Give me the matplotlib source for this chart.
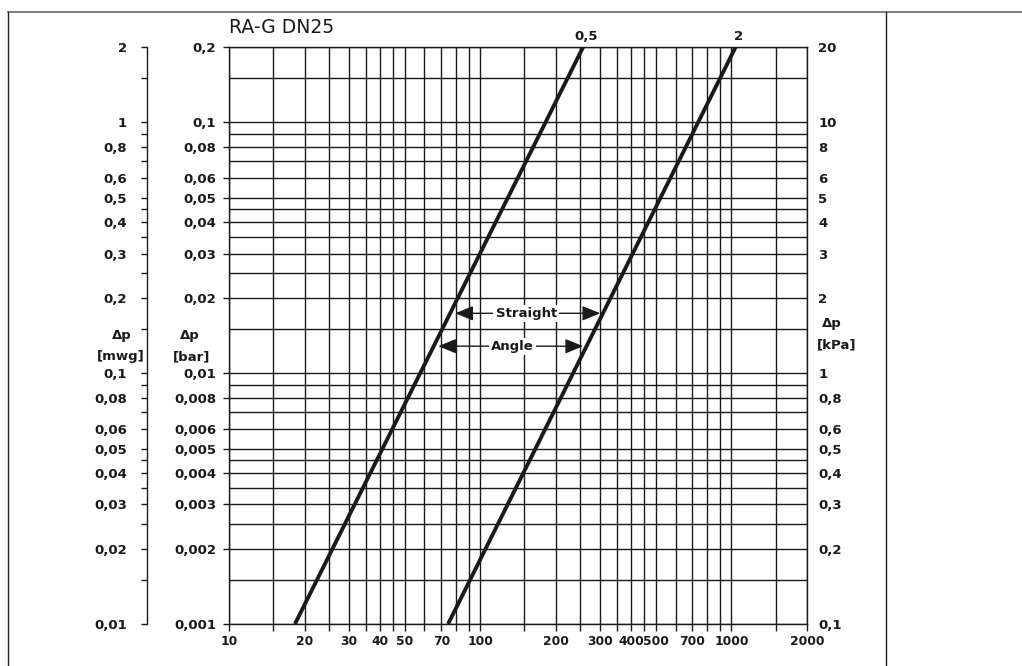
import matplotlib
matplotlib.use('Agg')
import matplotlib.pyplot as plt
from matplotlib.lines import Line2D
from matplotlib.ticker import NullFormatter

W, H = 1022, 666
plt.rcParams['font.family'] = ['DejaVu Sans']

# flow [l/h]
x_ticks = [10, 20, 30, 40, 50, 70, 100, 200, 300, 400, 500, 700, 1000, 2000]
x_grid = [15, 25, 35, 45, 60, 80, 90, 150, 250, 350, 450, 600, 800, 900, 1500]

# pressure drop [bar]; mwg = bar*10, kPa = bar*100
bar_ticks = [0.001, 0.002, 0.003, 0.004, 0.005, 0.006, 0.008,
             0.01, 0.02, 0.03, 0.04, 0.05, 0.06, 0.08, 0.1, 0.2]
bar_grid = [0.0015, 0.0025, 0.0035, 0.0045, 0.007, 0.009,
            0.015, 0.025, 0.035, 0.045, 0.07, 0.09, 0.15]

kv_names = ['0,5', '2']
kv_flow = [[18.3, 257], [74.5, 1040]]
kv_dp = [0.001, 0.2]

# arrows between the lines
arrow_names = ['Straight', 'Angle']
arrow_dp = [0.01734, 0.01282]
arrow_from = [79.5, 68.1]
arrow_to = [300.7, 257]
arrow_text_x = [152.5, 134]


def fmt(v):
    return f"{v:g}".replace('.', ',')


ink = '#1a1a1a'
tick_font = dict(fontsize=9.5, fontweight='bold', color=ink)
x_font = dict(fontsize=8.8, fontweight='bold', color=ink)

fig = plt.figure(figsize=(W / 100, H / 100), dpi=100)
ax = fig.add_axes([229 / W, 1 - 624 / H, 578 / W, 577 / H])
ax.set_xscale('log')
ax.set_yscale('log')
ax.set_xlim(10, 2000)
ax.set_ylim(0.001, 0.2)
ax.set_axisbelow(True)

ax.set_xticks(x_ticks, [fmt(v) for v in x_ticks], **x_font)
ax.set_xticks(x_grid, minor=True)
ax.set_yticks(bar_ticks, [fmt(v) for v in bar_ticks], **tick_font)
ax.set_yticks(bar_grid, minor=True)
ax.xaxis.set_minor_formatter(NullFormatter())
ax.yaxis.set_minor_formatter(NullFormatter())
ax.grid(True, which='both', color=ink, lw=1.0)
ax.tick_params(axis='x', which='both', direction='out', length=5, width=1.0,
               color=ink, pad=3, top=False)
ax.tick_params(axis='y', which='major', direction='out', length=4.3, width=1.0,
               color=ink, pad=5, right=False)
ax.tick_params(axis='y', which='minor', length=0)
for s in ax.spines.values():
    s.set_color(ink)
    s.set_linewidth(1.0)

for q, name in zip(kv_flow, kv_names):
    ax.plot(q, kv_dp, color=ink, lw=2.8, solid_capstyle='butt')
    ax.annotate(name, xy=(q[1], kv_dp[1]), xytext=(1.8, 5),
                textcoords='offset points', ha='center', va='baseline',
                annotation_clip=False, **tick_font)

for name, y, x0, x1, xt in zip(arrow_names, arrow_dp, arrow_from, arrow_to, arrow_text_x):
    for xe in (x0, x1):
        ax.annotate('', xy=(xe, y), xytext=(xt, y),
                    arrowprops=dict(arrowstyle='-|>,head_length=1.1,head_width=0.45',
                                    color=ink, lw=1.0, shrinkA=0, shrinkB=0,
                                    mutation_scale=10))
    ax.text(xt, y, name, ha='center', va='center', zorder=5, fontsize=9.5,
            fontweight='bold', color=ink,
            bbox=dict(fc='white', ec='none', pad=1.5))

# mwg axis on the far left
ax_m = ax.twinx()
ax_m.set_yscale('log')
ax_m.set_ylim(0.01, 2)
ax_m.yaxis.set_ticks_position('left')
ax_m.yaxis.set_label_position('left')
for k in ('top', 'right', 'bottom'):
    ax_m.spines[k].set_visible(False)
ax_m.spines['left'].set_position(('axes', -82 / 578))
ax_m.spines['left'].set_color(ink)
ax_m.spines['left'].set_linewidth(1.0)
mwg_ticks = [v * 10 for v in bar_ticks]
ax_m.set_yticks(mwg_ticks, [fmt(round(v, 4)) for v in mwg_ticks], **tick_font)
ax_m.set_yticks([v * 10 for v in bar_grid], minor=True)
ax_m.yaxis.set_minor_formatter(NullFormatter())
ax_m.tick_params(axis='y', which='both', direction='out', length=4.3, width=1.0,
                 color=ink, pad=10)

# kPa axis on the right
ax_k = ax.twinx()
ax_k.set_yscale('log')
ax_k.set_ylim(0.1, 20)
for s in ax_k.spines.values():
    s.set_visible(False)
kpa_ticks = [v * 100 for v in bar_ticks]
ax_k.set_yticks(kpa_ticks, [fmt(round(v, 4)) for v in kpa_ticks], **tick_font)
ax_k.set_yticks([], minor=True)
ax_k.tick_params(axis='y', which='both', length=0, pad=8)

# axis captions
fig.text(122 / W, 1 - 339 / H, 'Δp', ha='center', va='baseline', **tick_font)
fig.text(121 / W, 1 - 360 / H, '[mwg]', ha='center', va='baseline', **tick_font)
fig.text(190 / W, 1 - 339 / H, 'Δp', ha='center', va='baseline', **tick_font)
fig.text(192 / W, 1 - 360 / H, '[bar]', ha='center', va='baseline', **tick_font)
fig.text(822 / W, 1 - 327 / H, 'Δp', ha='left', va='baseline', **tick_font)
fig.text(817 / W, 1 - 348 / H, '[kPa]', ha='left', va='baseline', **tick_font)

fig.text(229 / W, 1 - 33 / H, 'RA-G DN25', ha='left', va='baseline',
         fontsize=13.5, color=ink)

# frame of the data sheet
fig.add_artist(Line2D([8 / W, 1], [1 - 12 / H] * 2, transform=fig.transFigure,
                      color='#666666', lw=1.2))
fig.add_artist(Line2D([8 / W] * 2, [0, 1 - 12 / H], transform=fig.transFigure,
                      color='#222222', lw=1.0))
fig.add_artist(Line2D([886 / W] * 2, [0, 1 - 12 / H], transform=fig.transFigure,
                      color='#222222', lw=1.0))

fig.savefig('out.png', dpi=100, facecolor='white')
